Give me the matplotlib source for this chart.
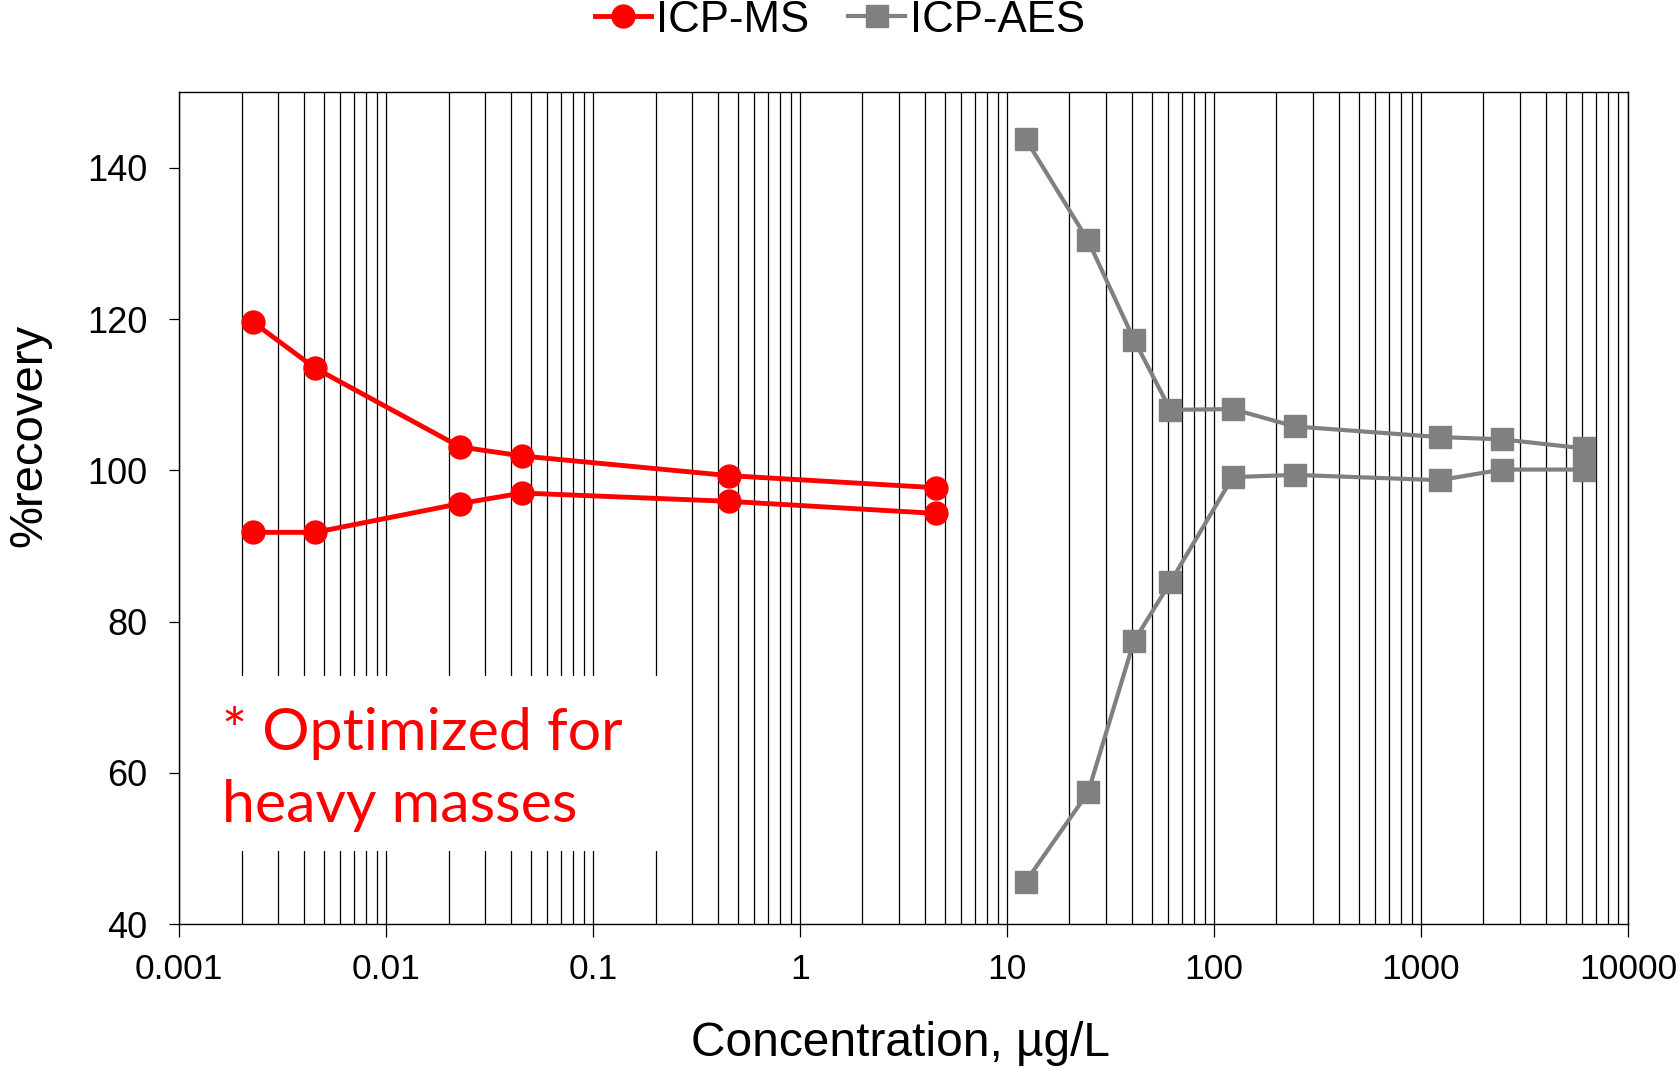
import matplotlib
matplotlib.use("Agg")
import matplotlib.pyplot as plt
import matplotlib.patches as mpatches
from matplotlib.ticker import LogLocator, NullFormatter, FixedLocator

plt.rcParams['font.family'] = ['Liberation Sans', 'DejaVu Sans']

# ICP-MS (two runs)
ms_conc = [0.00227, 0.00454, 0.0227, 0.0454, 0.454, 4.54]
ms_high = [119.6, 113.5, 103.1, 101.9, 99.3, 97.7]
ms_low = [91.8, 91.8, 95.6, 97.0, 95.9, 94.3]

# ICP-AES (two runs)
aes_conc = [12.3, 24.6, 41.0, 61.5, 123, 246, 1230, 2460, 6150]
aes_high = [143.8, 130.4, 117.3, 108.0, 108.1, 105.8, 104.4, 104.1, 102.9]
aes_low = [45.6, 57.4, 77.4, 85.2, 99.1, 99.4, 98.7, 100.1, 100.1]

y_ticks = [40, 60, 80, 100, 120, 140]
x_ticks = [0.001, 0.01, 0.1, 1, 10, 100, 1000, 10000]
x_ticklabels = ['0.001', '0.01', '0.1', '1', '10', '100', '1000', '10000']

RED = '#FF0000'
GRAY = '#808080'

fig = plt.figure(figsize=(16.79, 10.69), dpi=100)
ax = fig.add_axes([0.1068, 0.1356, 0.8628, 0.7781])

ax.set_xscale('log')
ax.set_xlim(0.001, 10000)
ax.set_ylim(40, 150)

# vertical grid on every decade and sub-decade
ax.xaxis.set_major_locator(FixedLocator(x_ticks))
ax.xaxis.set_minor_locator(LogLocator(base=10, subs=range(2, 10), numticks=20))
ax.xaxis.set_minor_formatter(NullFormatter())
ax.set_xticklabels(x_ticklabels)
ax.set_yticks(y_ticks)
ax.set_axisbelow(True)
ax.grid(True, which='both', axis='x', color='black', lw=0.9)
ax.grid(False, axis='y')

ax.tick_params(axis='x', which='major', direction='out', length=9, width=0.9,
               labelsize=25.5, pad=12)
ax.tick_params(axis='x', which='minor', length=0)
ax.tick_params(axis='y', direction='out', length=7, width=0.9, labelsize=26, pad=16)
for s in ax.spines.values():
    s.set_color('black')
    s.set_linewidth(1.0)

# white patch behind the annotation
ax.add_patch(mpatches.Rectangle((0.00104, 49.6), 0.24 - 0.00104, 23.2,
                                facecolor='white', edgecolor='none', zorder=1))

ax.plot(ms_conc, ms_high, '-o', color=RED, lw=3.5, ms=16.5, mec=RED, zorder=3,
        label='ICP-MS')
ax.plot(ms_conc, ms_low, '-o', color=RED, lw=3.5, ms=16.5, mec=RED, zorder=3)
ax.plot(aes_conc, aes_high, '-s', color=GRAY, lw=3, ms=16, mec=GRAY, zorder=3,
        label='ICP-AES')
ax.plot(aes_conc, aes_low, '-s', color=GRAY, lw=3, ms=16, mec=GRAY, zorder=3)

ax.text(0.00161, 60.5, '* Optimized for\nheavy masses', color=RED, fontsize=42.6,
        family=['Lato', 'DejaVu Sans'], va='center', ha='left',
        linespacing=1.46, zorder=4)

fig.text(900 / 1679, 1 - 1044 / 1069, 'Concentration, µg/L', fontsize=34.5,
         ha='center', va='center')
fig.text(29 / 1679, 1 - 435 / 1069, '%recovery', fontsize=34, rotation=90,
         ha='center', va='center')

fig.legend(loc='center', bbox_to_anchor=(0.5, 0.981), ncol=2, frameon=False,
           fontsize=31.5, handlelength=1.3, handletextpad=0.1, columnspacing=0.9,
           borderaxespad=0)

fig.savefig('out.png', dpi=100, facecolor='white')
